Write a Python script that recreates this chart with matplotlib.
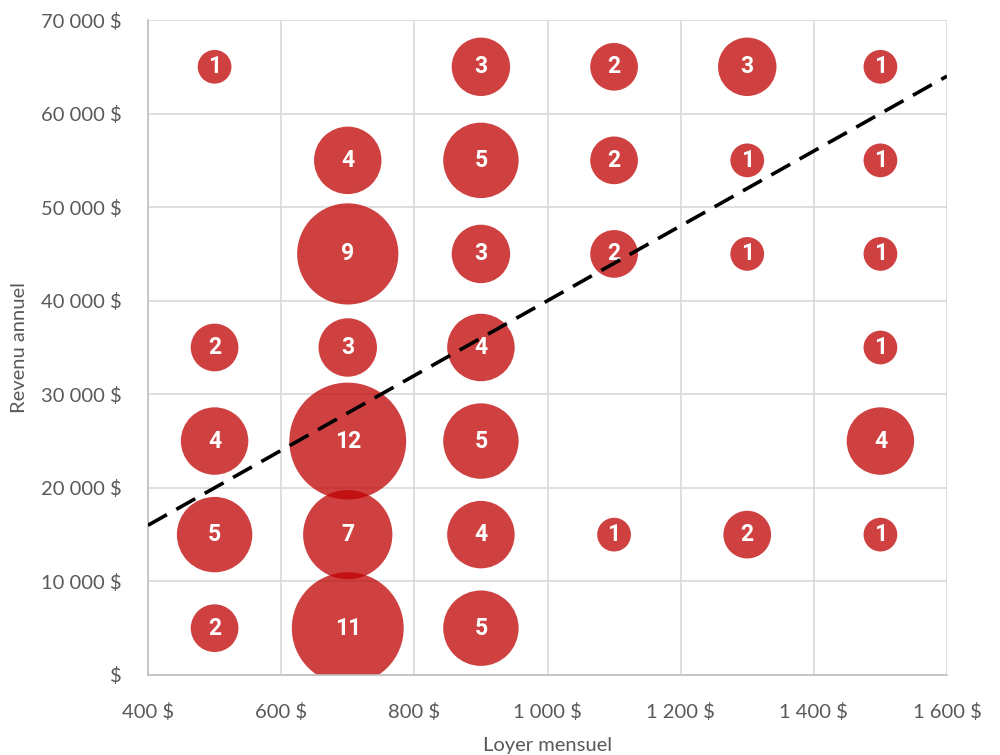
import matplotlib.pyplot as plt
from matplotlib.ticker import FuncFormatter

# loyer mensuel (x), revenu annuel (y), nombre de répondants (taille)
loyer = [500, 900, 1100, 1300, 1500,
         700, 900, 1100, 1300, 1500,
         700, 900, 1100, 1300, 1500,
         500, 700, 900, 1500,
         500, 700, 900, 1500,
         500, 700, 900, 1100, 1300, 1500,
         500, 700, 900]
revenu = [65000, 65000, 65000, 65000, 65000,
          55000, 55000, 55000, 55000, 55000,
          45000, 45000, 45000, 45000, 45000,
          35000, 35000, 35000, 35000,
          25000, 25000, 25000, 25000,
          15000, 15000, 15000, 15000, 15000, 15000,
          5000, 5000, 5000]
nombre = [1, 3, 2, 3, 1,
          4, 5, 2, 1, 1,
          9, 3, 2, 1, 1,
          2, 3, 4, 1,
          4, 12, 5, 4,
          5, 7, 4, 1, 2, 1,
          2, 11, 5]

# courbe de tendance
tendance_x = [400, 1600]
tendance_y = [16000, 64000]

gris = '#595959'
police = ['Lato', 'DejaVu Sans']
plt.rcParams['font.family'] = police


def fmt_dollars(v, pos):
    if v == 0:
        return '$'
    return '{:,.0f} $'.format(v).replace(',', ' ')


fig = plt.figure(figsize=(10, 7.55), dpi=100)
ax = fig.add_axes([0.148, 0.106, 0.799, 0.8675])

# aire proportionnelle à la valeur, 12 -> ~117 px de diamètre
taille = [n * 590 for n in nombre]
ax.scatter(loyer, revenu, s=taille, color='#C00000', alpha=0.75,
           linewidths=0, zorder=2)
for x, y, n in zip(loyer, revenu, nombre):
    ax.text(x, y, str(n), color='white', fontsize=16.5, fontweight='bold',
            ha='center', va='center', zorder=3,
            family=['Roboto', 'DejaVu Sans'])

ax.plot(tendance_x, tendance_y, color='black', lw=2.6, dashes=(6, 3),
        dash_capstyle='butt', zorder=4)

ax.set_xlim(400, 1600)
ax.set_ylim(0, 70000)
ax.set_xticks(range(400, 1601, 200))
ax.set_yticks(range(0, 70001, 10000))
ax.xaxis.set_major_formatter(FuncFormatter(fmt_dollars))
ax.yaxis.set_major_formatter(FuncFormatter(fmt_dollars))
ax.grid(True, color='#D9D9D9', lw=1.2, zorder=0)
ax.set_axisbelow(True)
for s in ['top', 'right']:
    ax.spines[s].set_visible(False)
for s in ['left', 'bottom']:
    ax.spines[s].set_color('#BFBFBF')
    ax.spines[s].set_linewidth(1.2)
ax.tick_params(length=0, labelsize=14.5, colors=gris, pad=20)
ax.tick_params(axis='y', pad=19)

ax.set_xlabel('Loyer mensuel', fontsize=14.5, color=gris, labelpad=12)
ax.set_ylabel('Revenu annuel', fontsize=14.5, color=gris, labelpad=9)

fig.savefig('out.png', dpi=100)
